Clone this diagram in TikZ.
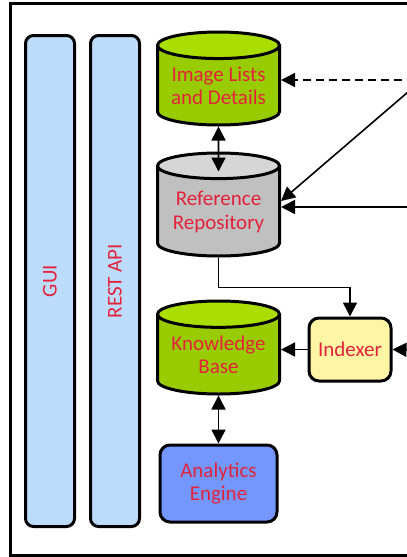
\documentclass[tikz,border=0pt]{standalone}
\usepackage{fontspec}
\setmainfont{Carlito}
\usetikzlibrary{positioning, arrows.meta, shapes.geometric, calc}
\definecolor{labelRed}{HTML}{E2233B}
\definecolor{barBlue}{HTML}{BDDCFB}
\definecolor{storeGreen}{HTML}{99CC00}
\definecolor{storeGreenTop}{HTML}{AADD00}
\definecolor{storeGray}{HTML}{C0C0C0}
\definecolor{storeGrayTop}{HTML}{D6D6D6}
\definecolor{idxYellow}{HTML}{FFF5A5}
\definecolor{engineBlue}{HTML}{7396FF}

\begin{document}
\begin{tikzpicture}[
  x=1pt, y=-1pt,
  every node/.style={font=\fontsize{21}{23}\selectfont, text=labelRed, align=center},
  bar/.style={
    draw, line width=3pt,
    rounded corners=8pt,
    fill=barBlue,
    minimum width=49pt, minimum height=491pt,
    inner sep=0pt
  },
  store/.style={
    cylinder, shape border rotate=90, draw, line width=3pt,
    aspect=0.28,
    cylinder uses custom fill,
    minimum width=122pt,
    inner sep=0pt, anchor=south
  },
  box/.style={
    draw, line width=3pt,
    rounded corners=10pt,
    inner sep=0pt
  },
  link/.style={draw, line width=1.6pt, -{Triangle[length=14pt,width=14pt]}},
  both/.style={draw, line width=1.6pt, {Triangle[length=14pt,width=14pt]}-{Triangle[length=14pt,width=14pt]}}
]
\useasboundingbox (0,0) rectangle (407,557);
\clip (0,0) rectangle (407,557);

\draw[line width=3pt] (10,3) rectangle (440,555);

\node[bar] (gui) at (50,281) {};
\node[rotate=90] at (gui.center) {GUI};
\node[bar] (restapi) at (115,281) {};
\node[rotate=90] at (restapi.center) {REST API};

\node[store, minimum height=93pt, cylinder body fill=storeGreen, cylinder end fill=storeGreenTop]
  (imglist) at (218.5,126.5) {Image Lists\\and Details};
\node[store, minimum height=103pt, cylinder body fill=storeGray, cylinder end fill=storeGrayTop,
  font=\fontsize{21}{24}\selectfont]
  (refrepo) at (218.5,257.5) {Reference\\Repository};
\node[store, minimum height=93pt, cylinder body fill=storeGreen, cylinder end fill=storeGreenTop]
  (kbase) at (218.5,395.5) {Knowledge\\Base};

\node[box, fill=idxYellow, minimum width=82pt, minimum height=63pt] (indexer) at (350,349.5) {Indexer};
\node[box, fill=engineBlue, minimum width=117pt, minimum height=77pt] (analytics) at (218.5,483.5) {Analytics\\Engine};

% links from the cut-off right side
\coordinate (inDash) at (415,80);
\coordinate (inDiag) at (415,86);
\coordinate (inRef) at (415,207);
\coordinate (inIdx) at (415,350);

\draw[link, dash pattern=on 8pt off 5pt] (inDash) -- (inDash -| imglist.east);
\draw[link] (inDiag) -- ($(inRef -| refrepo.east)+(0,-6)$);
\draw[link] (inRef) -- (inRef -| refrepo.east);
\draw[link] (inIdx) -- (indexer.east);
\draw[link] (indexer.west) -- (indexer.west -| kbase.east);

\draw[both] (imglist.south) -- ($(refrepo.north)+(0,20)$);
\draw[link] (refrepo.south) -- ++(0,30) -| (indexer.north);
\draw[both] (kbase.south) -- (analytics.north);

\end{tikzpicture}
\end{document}
